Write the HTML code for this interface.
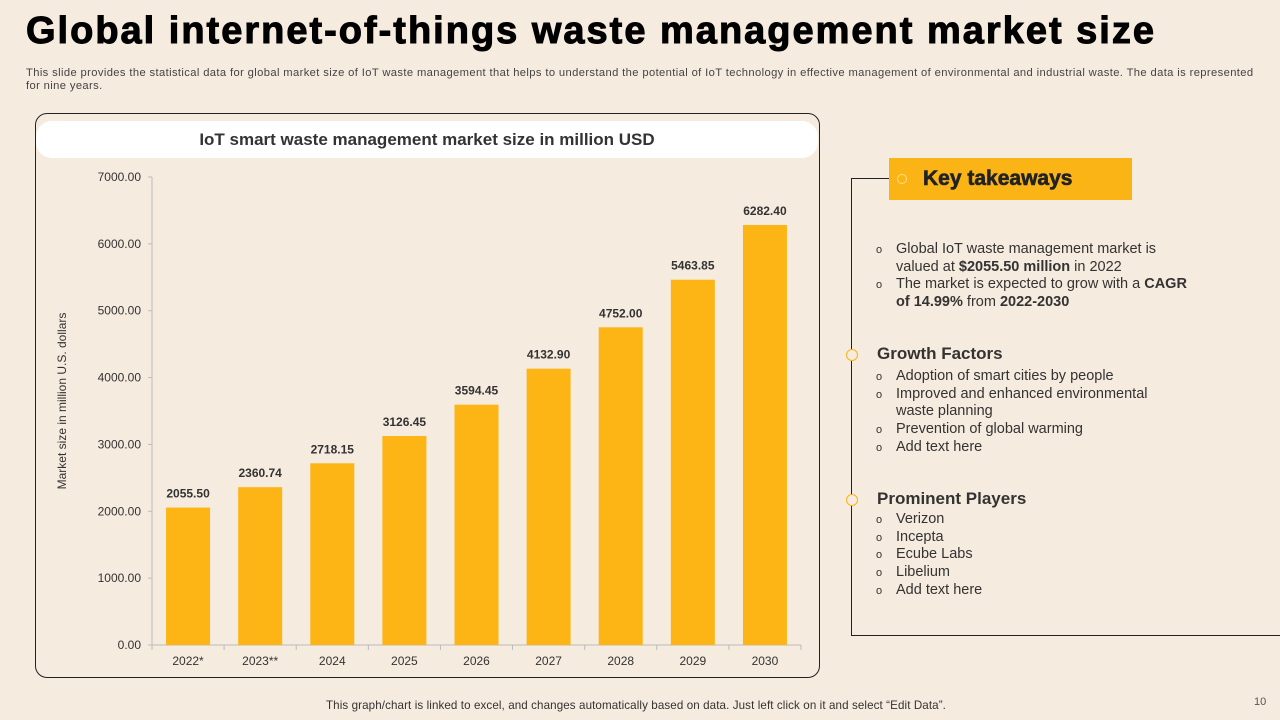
<!DOCTYPE html>
<html><head><meta charset="utf-8"><style>
body{margin:0;width:1280px;height:720px;background:#F6EBDF;font-family:"Liberation Sans",sans-serif;position:relative;overflow:hidden;color:#333}
.abs{position:absolute}
h1{position:absolute;left:26px;top:10px;margin:0;font-size:38px;font-weight:900;color:#000;letter-spacing:2px;word-spacing:0px;-webkit-text-stroke:1px #000}
.desc{left:26px;top:67px;font-size:11.2px;color:#444;width:1260px;line-height:13px;letter-spacing:0.38px}
.li{font-size:14.5px;color:#333;line-height:17.7px;padding-left:20px;position:relative}
.li:before{content:"o";position:absolute;left:0;font-size:11px;top:1px}
.hd{font-size:17px;font-weight:bold;color:#333}
</style></head><body>
<h1>Global internet-of-things waste management market size</h1>
<div class="abs desc">This slide provides the statistical data for global market size of IoT waste management that helps to understand the potential of IoT technology in effective management of environmental and industrial waste. The data is represented<br>for nine years.</div>
<div class="abs" style="left:35px;top:113px;width:783px;height:563px;border:1.5px solid #222;border-radius:12px"></div>
<div class="abs" style="left:36px;top:121px;width:782px;height:37px;background:#fff;border-radius:16px;text-align:center;line-height:37px;font-size:17px;font-weight:bold;color:#333">IoT smart waste management market size in million USD</div>
<svg class="abs" style="left:0;top:0" width="1280" height="720">
<g id="g"></g>
<text transform="translate(66,401) rotate(-90)" text-anchor="middle" font-size="12" fill="#333" font-family="Liberation Sans">Market size in million U.S. dollars</text>
</svg>
<div class="abs" style="left:851px;top:178px;width:1px;height:457px;background:#222"></div>
<div class="abs" style="left:851px;top:178px;width:38px;height:1px;background:#222"></div>
<div class="abs" style="left:851px;top:635px;width:430px;height:1px;background:#222"></div>
<div class="abs" style="left:889px;top:158px;width:243px;height:42px;background:#FBB416;font-size:21px;font-weight:900;color:#222;line-height:42px;-webkit-text-stroke:0.6px #222"><span style="display:inline-block;width:8px;height:8px;border:1.5px solid #f4e08a;border-radius:50%;margin:0 16px 0 8px;vertical-align:middle"></span>Key takeaways</div>
<div class="abs" style="left:876px;top:241px;width:320px">
<div class="li">Global IoT waste management market is valued at <b>$2055.50 million</b> in 2022</div>
<div class="li">The market is expected to grow with a <b>CAGR of 14.99%</b> from <b>2022-2030</b></div>
</div>
<div class="abs" style="left:846px;top:349px;width:10px;height:10px;border:1.5px solid #FBB416;border-radius:50%;background:#F6EBDF"></div>
<div class="abs hd" style="left:877px;top:344px">Growth Factors</div>
<div class="abs" style="left:876px;top:368px;width:290px">
<div class="li">Adoption of smart cities by people</div>
<div class="li">Improved and enhanced environmental waste planning</div>
<div class="li">Prevention of global warming</div>
<div class="li">Add text here</div>
</div>
<div class="abs" style="left:846px;top:494px;width:10px;height:10px;border:1.5px solid #FBB416;border-radius:50%;background:#F6EBDF"></div>
<div class="abs hd" style="left:877px;top:489px">Prominent Players</div>
<div class="abs" style="left:876px;top:511px;width:300px">
<div class="li">Verizon</div><div class="li">Incepta</div><div class="li">Ecube Labs</div><div class="li">Libelium</div><div class="li">Add text here</div>
</div>
<div class="abs" style="left:326px;top:699px;font-size:11.6px;color:#333;letter-spacing:0.1px">This graph/chart is linked to excel, and changes automatically based on data. Just left click on it and select “Edit Data”.</div>
<div class="abs" style="left:1254px;top:696px;font-size:11px;color:#555">10</div>
<script>
const categories=["2022*","2023**","2024","2025","2026","2027","2028","2029","2030"];
const values=[2055.50,2360.74,2718.15,3126.45,3594.45,4132.90,4752.00,5463.85,6282.40];
const yTicks=[0,1000,2000,3000,4000,5000,6000,7000];
const NS="http://www.w3.org/2000/svg",g=document.getElementById("g");
const x0=152,x1=801,yb=645,yt=177,ymax=7000;
const bw=(x1-x0)/categories.length;
const y=v=>yb-(v/ymax)*(yb-yt);
const xc=i=>x0+bw*(i+0.5);
function el(t,a){const e=document.createElementNS(NS,t);for(const k in a)e.setAttribute(k,a[k]);g.appendChild(e);return e;}
let ax=el("line",{x1:x0,y1:yt,x2:x0,y2:yb,stroke:"#bbb"});


let bx=el("line",{x1:x0,y1:yb,x2:x1,y2:yb,stroke:"#bbb"});


yTicks.forEach(t=>{
 el("line",{x1:x0-4,x2:x0,y1:y(t),y2:y(t),stroke:"#bbb"});
 const tx=el("text",{x:x0-11,y:y(t)+4,"text-anchor":"end","font-size":12,fill:"#333"});
 tx.textContent=t.toFixed(2);
 
 
});
for(let i=0;i<=categories.length;i++)el("line",{x1:x0+bw*i,x2:x0+bw*i,y1:yb,y2:yb+5,stroke:"#bbb"});
categories.forEach((c,i)=>{
 const r=el("rect",{x:xc(i)-22,y:y(values[i]),width:44,height:yb-y(values[i]),fill:"#FDB515"});
 
 
 const v=el("text",{x:xc(i),y:y(values[i])-10,"text-anchor":"middle","font-size":12,"font-weight":"bold",fill:"#333"});
 v.textContent=values[i].toFixed(2);
 
 
 const l=el("text",{x:xc(i),y:yb+20,"text-anchor":"middle","font-size":12,fill:"#333"});
 l.textContent=c;
 
 
});
</script>
</body></html>
